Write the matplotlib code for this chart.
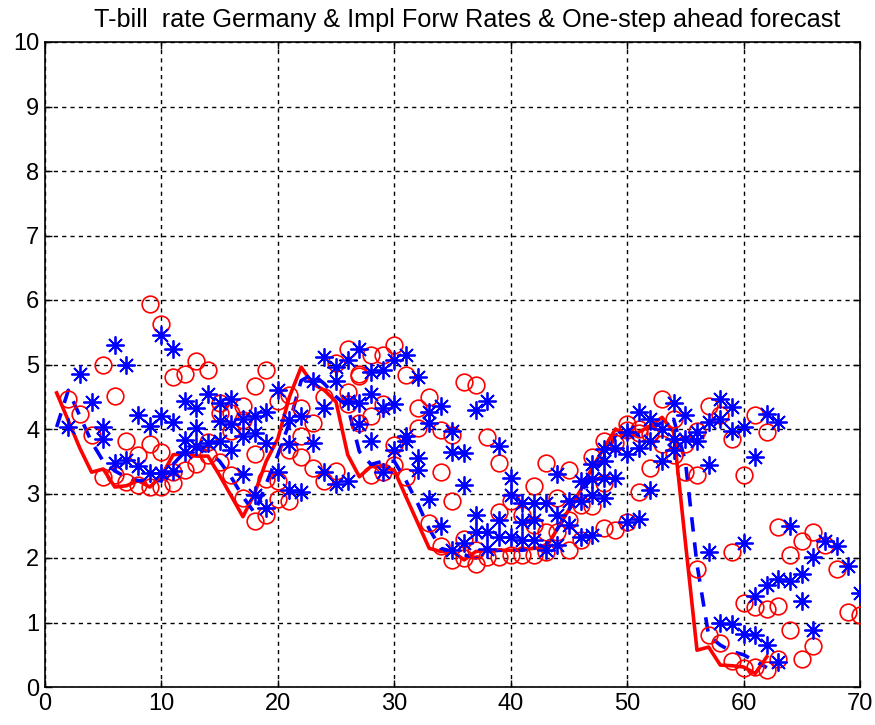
import matplotlib
matplotlib.use("Agg")
import matplotlib.pyplot as plt

plt.rcParams['font.family'] = ['Liberation Sans', 'DejaVu Sans']

# Actual T-bill rate (red solid), t = 1..62
rate_x = list(range(1, 63))
rate_y = [4.56, 4.13, 3.70, 3.33, 3.38, 3.10, 3.12, 3.20, 3.10, 3.27,
          3.60, 3.62, 3.58, 3.58, 3.28, 2.96, 2.64, 3.00, 3.50, 3.85,
          4.50, 4.96, 4.70, 4.60, 4.42, 3.60, 3.26, 3.42, 3.42, 3.36,
          2.95, 2.55, 2.15, 2.10, 2.10, 1.97, 2.10, 2.12, 2.12, 2.12,
          2.13, 2.15, 2.15, 2.45, 2.75, 3.05, 3.40, 3.70, 4.00, 3.88,
          3.95, 4.05, 4.18, 3.95, 2.25, 0.57, 0.62, 0.34, 0.33, 0.31,
          0.21, 0.47]

# One-step ahead forecast (blue dashed), t = 1..62
fc_x = list(range(1, 63))
fc_y = [4.03, 4.60, 4.20, 3.80, 3.50, 3.35, 3.25, 3.20, 3.20, 3.20,
        3.45, 3.65, 3.70, 3.65, 3.50, 3.25, 2.95, 2.70, 3.15, 3.60,
        4.10, 4.75, 4.85, 4.70, 4.50, 4.35, 3.65, 3.45, 3.50, 3.50,
        3.20, 2.85, 2.45, 2.15, 2.10, 2.05, 2.00, 2.10, 2.12, 2.12,
        2.12, 2.15, 2.20, 2.45, 2.75, 3.00, 3.30, 3.55, 3.90, 4.00,
        3.90, 4.00, 4.10, 4.15, 3.50, 1.90, 0.80, 0.65, 0.55, 0.50,
        0.40, 0.30]

# Implied forward rates (red circles)
circ_x = [2, 3, 4, 5, 5, 6, 6, 7, 7, 8, 8,
          9, 9, 9, 10, 10, 10, 11, 11, 11, 12, 12, 13, 13,
          14, 14, 14, 15, 15, 15, 16, 16, 16, 17, 17, 17,
          18, 18, 18, 19, 19, 19, 20, 20, 20, 21, 21, 21,
          22, 22, 22, 23, 23, 24, 24, 25, 25, 26, 26, 26,
          27, 27, 27, 28, 28, 28, 29, 29, 29, 30, 30, 30,
          31, 31, 32, 32, 33, 33, 34, 34, 34, 35, 35, 35,
          36, 36, 36, 37, 37, 37, 38, 38, 39, 39, 39, 40, 40,
          41, 41, 42, 42, 42, 43, 43, 43, 44, 44, 45, 45, 45,
          46, 46, 47, 47, 48, 48, 48, 49, 49, 50, 50, 50,
          51, 51, 51, 52, 52, 53, 53, 54, 54, 55, 55,
          56, 56, 56, 57, 57, 58, 58, 59, 59, 59, 60, 60, 60,
          61, 61, 61, 62, 62, 62, 63, 63, 63, 64, 64, 65, 65,
          66, 66, 67, 68, 69, 70]
circ_y = [4.46, 4.23, 3.90, 5.00, 3.26, 4.51, 3.28, 3.82, 3.18, 3.59, 3.13,
          5.94, 3.77, 3.10, 5.63, 3.64, 3.10, 4.80, 3.34, 3.17, 4.86, 3.37, 5.05, 3.45,
          4.92, 3.80, 3.60, 4.41, 4.25, 3.49, 4.25, 3.97, 3.28, 4.36, 4.14, 2.93,
          4.66, 3.62, 2.57, 4.91, 3.23, 2.67, 4.44, 3.20, 2.92, 4.52, 3.68, 2.89,
          4.33, 3.89, 3.57, 4.10, 3.39, 4.49, 3.20, 5.02, 3.35, 5.24, 4.57, 4.39,
          4.86, 4.82, 4.09, 5.15, 4.20, 3.29, 5.15, 4.39, 3.33, 5.30, 3.75, 3.44,
          4.83, 3.26, 4.33, 4.02, 4.49, 2.55, 3.99, 3.33, 2.18, 3.91, 2.88, 1.97,
          4.73, 2.30, 2.00, 4.68, 2.12, 1.91, 3.87, 2.02, 3.48, 2.72, 2.02, 2.88, 2.05,
          2.67, 2.04, 3.11, 2.51, 2.04, 3.48, 2.41, 2.09, 2.93, 2.41, 3.37, 2.59, 2.12,
          2.82, 2.28, 3.56, 2.80, 3.82, 3.16, 2.46, 3.79, 2.43, 4.08, 3.99, 2.56,
          4.00, 3.94, 3.03, 3.92, 3.39, 4.46, 3.76, 4.16, 3.60, 3.76, 3.34,
          3.97, 3.29, 1.83, 4.36, 0.80, 4.21, 0.68, 3.84, 2.10, 0.40, 3.28, 1.31, 0.30,
          4.21, 1.24, 0.31, 3.95, 1.21, 0.26, 2.48, 1.26, 0.44, 2.04, 0.89, 2.27, 0.44,
          2.41, 0.63, 2.20, 1.83, 1.17, 1.12]

# Implied forward rates (blue stars)
star_x = [2, 3, 4, 5, 5, 6, 6, 7, 7, 8, 8, 9, 9,
          10, 10, 10, 11, 11, 11, 12, 12, 12, 13, 13, 13,
          14, 14, 15, 15, 15, 16, 16, 16, 17, 17, 17,
          18, 18, 18, 19, 19, 19, 20, 20, 21, 21, 21, 22, 22,
          23, 23, 24, 24, 24, 25, 25, 25, 26, 26, 26,
          27, 27, 27, 28, 28, 28, 29, 29, 29, 30, 30, 30,
          31, 31, 31, 32, 32, 32, 33, 33, 33, 34, 34,
          35, 35, 35, 36, 36, 36, 37, 37, 37, 38, 38, 38,
          39, 39, 39, 40, 40, 40, 41, 41, 41, 42, 42, 42,
          43, 43, 44, 44, 44, 45, 45, 46, 46, 46,
          47, 47, 47, 47, 48, 48, 48, 48, 49, 49,
          50, 50, 50, 51, 51, 51, 52, 52, 52, 53, 53,
          54, 54, 54, 55, 55, 56, 56, 57, 57, 57,
          58, 58, 58, 59, 59, 59, 60, 60, 60, 61, 61, 61,
          62, 62, 62, 63, 63, 63, 64, 64, 65, 65, 66, 66,
          67, 68, 69, 70]
star_y = [4.03, 4.86, 4.42, 4.03, 3.84, 5.30, 3.47, 5.00, 3.52, 4.22, 3.42, 4.04, 3.32,
          5.46, 4.20, 3.32, 5.24, 4.11, 3.35, 4.44, 3.83, 3.65, 4.33, 4.02, 3.73,
          4.54, 3.78, 4.41, 4.12, 3.81, 4.46, 4.07, 3.68, 4.15, 3.89, 3.31,
          4.20, 3.94, 2.97, 4.27, 3.78, 2.78, 4.60, 3.33, 4.14, 3.76, 3.05, 4.20, 3.02,
          4.75, 3.78, 5.12, 4.33, 3.33, 4.96, 4.75, 3.15, 5.07, 4.44, 3.20,
          5.24, 4.41, 4.07, 4.88, 4.54, 3.81, 4.91, 4.33, 3.34, 5.07, 4.39, 3.68,
          5.15, 3.89, 3.81, 4.81, 3.55, 3.36, 4.26, 4.10, 2.92, 4.36, 2.50,
          3.97, 3.64, 2.13, 3.63, 3.13, 2.24, 4.30, 2.67, 2.41, 4.44, 2.41, 2.14,
          3.74, 2.59, 2.33, 3.24, 2.98, 2.33, 2.85, 2.56, 2.28, 2.85, 2.59, 2.28,
          2.85, 2.12, 3.30, 2.67, 2.20, 2.88, 2.51, 3.19, 2.88, 2.33,
          3.45, 3.22, 2.98, 2.36, 3.69, 3.50, 3.24, 2.93, 3.71, 3.24,
          3.95, 3.61, 2.56, 4.26, 3.71, 2.61, 4.16, 3.82, 3.05, 4.00, 3.50,
          4.40, 3.84, 3.68, 4.21, 3.84, 3.95, 3.82, 4.11, 3.44, 2.10,
          4.47, 4.16, 0.99, 4.34, 3.97, 0.97, 4.03, 2.24, 0.82, 3.57, 1.41, 0.80,
          4.24, 1.58, 0.65, 4.11, 1.67, 0.38, 2.50, 1.64, 1.75, 1.33, 2.01, 0.88,
          2.27, 2.19, 1.88, 1.45]

title = "T-bill  rate Germany & Impl Forw Rates & One-step ahead forecast"
x_ticks = [0, 10, 20, 30, 40, 50, 60, 70]
y_ticks = [0, 1, 2, 3, 4, 5, 6, 7, 8, 9, 10]

fig = plt.figure(figsize=(8.75, 7.25), dpi=100)
ax = fig.add_axes([45/875, 38/725, 815/875, 645/725])

ax.plot(rate_x, rate_y, color='#ff0000', linewidth=2.6, zorder=3)
ax.plot(fc_x, fc_y, color='#0000ff', linewidth=2.6, linestyle=(0, (4, 3)), zorder=3)
ax.plot(circ_x, circ_y, linestyle='none', marker='o', markersize=12,
        markerfacecolor='none', markeredgecolor='#ff0000', markeredgewidth=1.2, zorder=4)
ax.plot(star_x, star_y, linestyle='none', marker=(8, 2, 0), markersize=13,
        markeredgecolor='#0000ff', markeredgewidth=1.3, zorder=4)

ax.set_xlim(0, 70)
ax.set_ylim(0, 10)
ax.set_xticks(x_ticks)
ax.set_yticks(y_ticks)
ax.grid(True, color='black', linestyle=(0, (3, 3)), linewidth=1.0)
ax.set_axisbelow(True)
ax.tick_params(direction='in', top=True, right=True, labelsize=17, length=5, width=1, pad=4)
for s in ax.spines.values():
    s.set_linewidth(1.2)
ax.set_title(title, fontsize=18.2, pad=11, x=0.518)

fig.savefig("out.png", dpi=100)
